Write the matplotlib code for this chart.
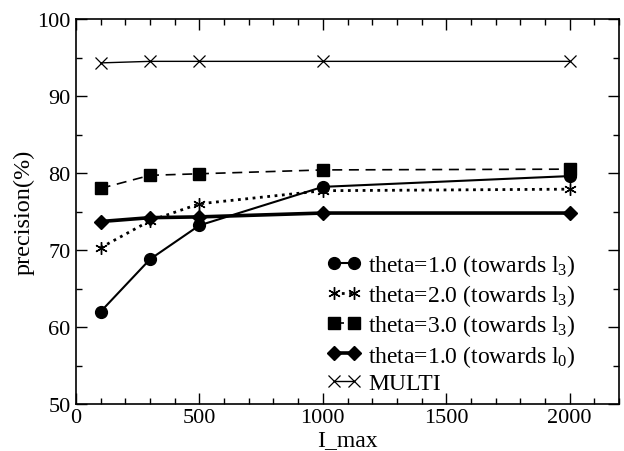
import matplotlib
matplotlib.use("Agg")
import matplotlib.pyplot as plt
from matplotlib.ticker import MultipleLocator

plt.rcParams["font.family"] = "Liberation Serif"
plt.rcParams["mathtext.fontset"] = "custom"
plt.rcParams["mathtext.rm"] = "Liberation Serif"
plt.rcParams["mathtext.it"] = "Liberation Serif:italic"

# data
i_max = [100, 300, 500, 1000, 2000]
theta1_l3 = [62.0, 68.8, 73.2, 78.2, 79.6]
theta2_l3 = [70.3, 73.8, 76.0, 77.7, 77.9]
theta3_l3 = [78.0, 79.7, 79.9, 80.4, 80.5]
theta1_l0 = [73.7, 74.2, 74.3, 74.8, 74.8]
multi = [94.3, 94.5, 94.5, 94.5, 94.5]

series_labels = [
    r"theta=1.0 (towards l$_3$)",
    r"theta=2.0 (towards l$_3$)",
    r"theta=3.0 (towards l$_3$)",
    r"theta=1.0 (towards l$_0$)",
    "MULTI",
]

fig = plt.figure(figsize=(6.24, 4.52), dpi=100)
ax = fig.add_axes([76 / 624, 47 / 452, 543 / 624, 385 / 452])

ax.plot(i_max, theta1_l3, color="black", linestyle="-", linewidth=1.5,
        marker="o", markersize=8.5, label=series_labels[0])
ax.plot(i_max, theta2_l3, color="black", linestyle=":", linewidth=2.0,
        marker=(6, 2, 0), markersize=9, markeredgewidth=1.0, label=series_labels[1])
ax.plot(i_max, theta3_l3, color="black", linestyle=(0, (6, 4)), linewidth=1.2,
        marker="s", markersize=8, label=series_labels[2])
ax.plot(i_max, theta1_l0, color="black", linestyle="-", linewidth=2.6,
        marker="D", markersize=7, label=series_labels[3])
ax.plot(i_max, multi, color="black", linestyle="-", linewidth=1.0,
        marker="x", markersize=8, markeredgewidth=0.9, label=series_labels[4])

ax.set_xlim(0, 2200)
ax.set_ylim(50, 100)
ax.xaxis.set_major_locator(MultipleLocator(500))
ax.xaxis.set_minor_locator(MultipleLocator(100))
ax.yaxis.set_major_locator(MultipleLocator(10))
ax.yaxis.set_minor_locator(MultipleLocator(5))
ax.tick_params(which="both", direction="in", top=True, right=True,
               labelsize=16, width=1.0)
ax.tick_params(which="major", length=8)
ax.tick_params(which="minor", length=4)
ax.tick_params(axis="x", pad=3)
ax.tick_params(axis="y", pad=4)
for sp in ax.spines.values():
    sp.set_linewidth(1.2)

ax.set_xlabel("I_max", fontsize=17, labelpad=1)
ax.set_ylabel("precision(%)", fontsize=17.5, labelpad=2)

ax.legend(loc="upper left", bbox_to_anchor=(0.44, 0.425), frameon=False,
          fontsize=17, numpoints=2, handlelength=1.45, handletextpad=0.3,
          labelspacing=0.18, borderpad=0)

fig.savefig("out.png", dpi=100)
